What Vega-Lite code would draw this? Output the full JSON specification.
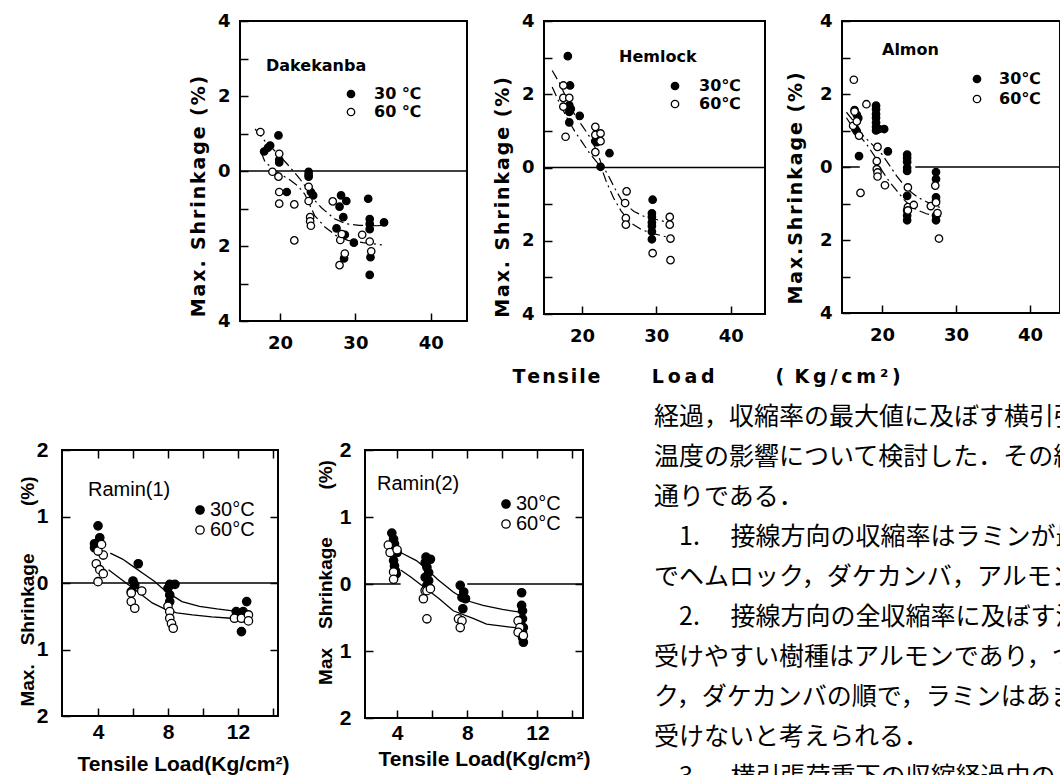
{
  "$schema": "https://vega.github.io/schema/vega-lite/v6.json",
  "padding": {"left": 17, "top": 11, "right": 0, "bottom": 0},
  "background": "white",
  "datasets": {
    "dPts": [
      {"load":19.8,"shrink":0.95,"temp":"30"},{"load":17.9,"shrink":0.52,"temp":"30"},{"load":18.4,"shrink":0.62,"temp":"30"},{"load":18.7,"shrink":0.68,"temp":"30"},{"load":19.9,"shrink":0.3,"temp":"30"},{"load":19.9,"shrink":0.23,"temp":"30"},{"load":20.9,"shrink":-0.56,"temp":"30"},{"load":23.8,"shrink":-0.02,"temp":"30"},{"load":23.8,"shrink":-0.1,"temp":"30"},{"load":23.8,"shrink":-0.15,"temp":"30"},{"load":24.1,"shrink":-0.56,"temp":"30"},{"load":24.4,"shrink":-0.65,"temp":"30"},{"load":28.1,"shrink":-0.65,"temp":"30"},{"load":27.9,"shrink":-0.95,"temp":"30"},{"load":28.8,"shrink":-0.8,"temp":"30"},{"load":28.4,"shrink":-1.23,"temp":"30"},{"load":27.5,"shrink":-1.53,"temp":"30"},{"load":28.6,"shrink":-1.7,"temp":"30"},{"load":29.8,"shrink":-1.91,"temp":"30"},{"load":28.5,"shrink":-2.33,"temp":"30"},{"load":31.7,"shrink":-0.74,"temp":"30"},{"load":31.9,"shrink":-1.28,"temp":"30"},{"load":31.9,"shrink":-1.41,"temp":"30"},{"load":31.9,"shrink":-1.55,"temp":"30"},{"load":33.8,"shrink":-1.37,"temp":"30"},{"load":32.0,"shrink":-2.3,"temp":"30"},{"load":31.9,"shrink":-2.77,"temp":"30"},
      {"load":17.4,"shrink":1.04,"temp":"60"},{"load":19.9,"shrink":0.46,"temp":"60"},{"load":19.0,"shrink":-0.02,"temp":"60"},{"load":19.8,"shrink":-0.15,"temp":"60"},{"load":19.9,"shrink":-0.56,"temp":"60"},{"load":19.9,"shrink":-0.87,"temp":"60"},{"load":21.9,"shrink":-0.89,"temp":"60"},{"load":21.9,"shrink":-1.85,"temp":"60"},{"load":23.8,"shrink":-0.42,"temp":"60"},{"load":23.8,"shrink":-0.8,"temp":"60"},{"load":24.0,"shrink":-1.23,"temp":"60"},{"load":24.0,"shrink":-1.34,"temp":"60"},{"load":24.1,"shrink":-1.46,"temp":"60"},{"load":27.0,"shrink":-0.81,"temp":"60"},{"load":28.0,"shrink":-1.84,"temp":"60"},{"load":28.2,"shrink":-1.68,"temp":"60"},{"load":28.6,"shrink":-2.2,"temp":"60"},{"load":27.9,"shrink":-2.51,"temp":"60"},{"load":30.9,"shrink":-1.7,"temp":"60"},{"load":31.9,"shrink":-1.88,"temp":"60"},{"load":32.1,"shrink":-2.14,"temp":"60"}
    ],
    "dCur": [
      {"load":16.7,"shrink":1.12,"temp":"30"},{"load":18,"shrink":0.8,"temp":"30"},{"load":19.5,"shrink":0.5,"temp":"30"},{"load":20.9,"shrink":0.2,"temp":"30"},{"load":22.6,"shrink":-0.2,"temp":"30"},{"load":23.5,"shrink":-0.45,"temp":"30"},{"load":24.4,"shrink":-0.74,"temp":"30"},{"load":25.5,"shrink":-0.98,"temp":"30"},{"load":26.5,"shrink":-1.15,"temp":"30"},{"load":27.3,"shrink":-1.28,"temp":"30"},{"load":28.8,"shrink":-1.41,"temp":"30"},{"load":30.5,"shrink":-1.45,"temp":"30"},{"load":32.8,"shrink":-1.46,"temp":"30"},{"load":33.6,"shrink":-1.45,"temp":"30"},
      {"load":17.5,"shrink":0.5,"temp":"60"},{"load":18,"shrink":0.25,"temp":"60"},{"load":18.7,"shrink":0.12,"temp":"60"},{"load":20,"shrink":-0.08,"temp":"60"},{"load":21.2,"shrink":-0.22,"temp":"60"},{"load":22.4,"shrink":-0.4,"temp":"60"},{"load":23.3,"shrink":-0.62,"temp":"60"},{"load":24.6,"shrink":-1.19,"temp":"60"},{"load":26,"shrink":-1.5,"temp":"60"},{"load":27.5,"shrink":-1.73,"temp":"60"},{"load":29,"shrink":-1.85,"temp":"60"},{"load":31,"shrink":-1.91,"temp":"60"},{"load":33.5,"shrink":-1.97,"temp":"60"}
    ],
    "dZero": [{"load":14.7,"load2":44.8,"shrink":0}],
    "hPts": [
      {"load":18.1,"shrink":3.04,"temp":"30"},{"load":18.4,"shrink":2.24,"temp":"30"},{"load":18.3,"shrink":1.7,"temp":"30"},{"load":18.5,"shrink":1.6,"temp":"30"},{"load":18.3,"shrink":1.52,"temp":"30"},{"load":18.3,"shrink":1.23,"temp":"30"},{"load":19.7,"shrink":1.41,"temp":"30"},{"load":21.8,"shrink":0.72,"temp":"30"},{"load":22.0,"shrink":0.69,"temp":"30"},{"load":23.7,"shrink":0.39,"temp":"30"},{"load":22.5,"shrink":0.02,"temp":"30"},{"load":29.5,"shrink":-0.88,"temp":"30"},{"load":29.4,"shrink":-1.25,"temp":"30"},{"load":29.4,"shrink":-1.35,"temp":"30"},{"load":29.4,"shrink":-1.5,"temp":"30"},{"load":29.4,"shrink":-1.6,"temp":"30"},{"load":29.4,"shrink":-1.75,"temp":"30"},{"load":29.4,"shrink":-1.96,"temp":"30"},
      {"load":17.5,"shrink":2.24,"temp":"60"},{"load":17.5,"shrink":1.9,"temp":"60"},{"load":17.5,"shrink":1.66,"temp":"60"},{"load":18.3,"shrink":1.9,"temp":"60"},{"load":17.8,"shrink":0.84,"temp":"60"},{"load":21.8,"shrink":1.11,"temp":"60"},{"load":21.8,"shrink":0.89,"temp":"60"},{"load":22.5,"shrink":0.93,"temp":"60"},{"load":22.5,"shrink":0.72,"temp":"60"},{"load":21.8,"shrink":0.42,"temp":"60"},{"load":26.0,"shrink":-0.65,"temp":"60"},{"load":25.8,"shrink":-0.97,"temp":"60"},{"load":25.9,"shrink":-1.38,"temp":"60"},{"load":25.9,"shrink":-1.56,"temp":"60"},{"load":31.8,"shrink":-1.35,"temp":"60"},{"load":31.8,"shrink":-1.56,"temp":"60"},{"load":31.9,"shrink":-1.94,"temp":"60"},{"load":29.5,"shrink":-2.34,"temp":"60"},{"load":31.9,"shrink":-2.53,"temp":"60"}
    ],
    "hCur": [
      {"load":16,"shrink":2.65,"temp":"30"},{"load":17,"shrink":2.3,"temp":"30"},{"load":18,"shrink":1.85,"temp":"30"},{"load":19,"shrink":1.45,"temp":"30"},{"load":20,"shrink":1.15,"temp":"30"},{"load":21,"shrink":0.85,"temp":"30"},{"load":22,"shrink":0.45,"temp":"30"},{"load":22.6,"shrink":0.1,"temp":"30"},{"load":23.5,"shrink":-0.2,"temp":"30"},{"load":24.5,"shrink":-0.6,"temp":"30"},{"load":25.5,"shrink":-0.95,"temp":"30"},{"load":27,"shrink":-1.2,"temp":"30"},{"load":28.5,"shrink":-1.35,"temp":"30"},{"load":30,"shrink":-1.42,"temp":"30"},{"load":32,"shrink":-1.52,"temp":"30"},
      {"load":16,"shrink":2.2,"temp":"60"},{"load":17,"shrink":1.75,"temp":"60"},{"load":18,"shrink":1.35,"temp":"60"},{"load":19,"shrink":1.0,"temp":"60"},{"load":20,"shrink":0.7,"temp":"60"},{"load":21,"shrink":0.4,"temp":"60"},{"load":22,"shrink":0.15,"temp":"60"},{"load":22.6,"shrink":0.0,"temp":"60"},{"load":23.3,"shrink":-0.4,"temp":"60"},{"load":24.3,"shrink":-0.85,"temp":"60"},{"load":25.3,"shrink":-1.2,"temp":"60"},{"load":26.5,"shrink":-1.5,"temp":"60"},{"load":28,"shrink":-1.7,"temp":"60"},{"load":29.5,"shrink":-1.8,"temp":"60"},{"load":32,"shrink":-1.93,"temp":"60"}
    ],
    "hZero": [{"load":14.9,"load2":44.6,"shrink":0}],
    "aPts": [
      {"load":16.3,"shrink":1.56,"temp":"30"},{"load":16.6,"shrink":1.43,"temp":"30"},{"load":16.8,"shrink":1.34,"temp":"30"},{"load":16.4,"shrink":1.04,"temp":"30"},{"load":16.6,"shrink":0.98,"temp":"30"},{"load":16.9,"shrink":0.3,"temp":"30"},{"load":19.2,"shrink":1.68,"temp":"30"},{"load":19.2,"shrink":1.58,"temp":"30"},{"load":19.2,"shrink":1.45,"temp":"30"},{"load":19.2,"shrink":1.35,"temp":"30"},{"load":19.2,"shrink":1.22,"temp":"30"},{"load":19.2,"shrink":1.1,"temp":"30"},{"load":19.2,"shrink":1.0,"temp":"30"},{"load":19.6,"shrink":1.04,"temp":"30"},{"load":20.3,"shrink":1.04,"temp":"30"},{"load":20.8,"shrink":0.43,"temp":"30"},{"load":23.4,"shrink":0.34,"temp":"30"},{"load":23.4,"shrink":0.25,"temp":"30"},{"load":23.4,"shrink":0.14,"temp":"30"},{"load":23.4,"shrink":-0.02,"temp":"30"},{"load":23.4,"shrink":-0.11,"temp":"30"},{"load":23.4,"shrink":-0.79,"temp":"30"},{"load":23.4,"shrink":-1.19,"temp":"30"},{"load":23.4,"shrink":-1.33,"temp":"30"},{"load":23.4,"shrink":-1.46,"temp":"30"},{"load":27.3,"shrink":-0.14,"temp":"30"},{"load":27.3,"shrink":-0.33,"temp":"30"},{"load":27.3,"shrink":-0.83,"temp":"30"},{"load":27.3,"shrink":-0.92,"temp":"30"},{"load":27.3,"shrink":-1.33,"temp":"30"},{"load":27.3,"shrink":-1.46,"temp":"30"},
      {"load":16.2,"shrink":2.39,"temp":"60"},{"load":16.3,"shrink":1.52,"temp":"60"},{"load":16.1,"shrink":1.13,"temp":"60"},{"load":16.6,"shrink":1.25,"temp":"60"},{"load":16.9,"shrink":0.86,"temp":"60"},{"load":17.1,"shrink":-0.71,"temp":"60"},{"load":17.9,"shrink":1.72,"temp":"60"},{"load":19.4,"shrink":0.55,"temp":"60"},{"load":19.3,"shrink":0.16,"temp":"60"},{"load":19.3,"shrink":-0.06,"temp":"60"},{"load":19.4,"shrink":-0.15,"temp":"60"},{"load":19.4,"shrink":-0.26,"temp":"60"},{"load":20.4,"shrink":-0.5,"temp":"60"},{"load":23.5,"shrink":-0.56,"temp":"60"},{"load":23.5,"shrink":-1.1,"temp":"60"},{"load":23.5,"shrink":-1.19,"temp":"60"},{"load":24.3,"shrink":-1.04,"temp":"60"},{"load":26.6,"shrink":-1.07,"temp":"60"},{"load":27.2,"shrink":-0.51,"temp":"60"},{"load":27.3,"shrink":-0.97,"temp":"60"},{"load":27.5,"shrink":-1.26,"temp":"60"},{"load":27.7,"shrink":-1.96,"temp":"60"}
    ],
    "aCur": [
      {"load":15.2,"shrink":1.5,"temp":"30"},{"load":16,"shrink":1.3,"temp":"30"},{"load":17,"shrink":0.95,"temp":"30"},{"load":18,"shrink":0.75,"temp":"30"},{"load":19,"shrink":0.55,"temp":"30"},{"load":20,"shrink":0.35,"temp":"30"},{"load":21,"shrink":0.05,"temp":"30"},{"load":22,"shrink":-0.25,"temp":"30"},{"load":23,"shrink":-0.5,"temp":"30"},{"load":24,"shrink":-0.7,"temp":"30"},{"load":25,"shrink":-0.85,"temp":"30"},{"load":26,"shrink":-0.95,"temp":"30"},{"load":27,"shrink":-1.05,"temp":"30"},{"load":28,"shrink":-1.12,"temp":"30"},
      {"load":15.2,"shrink":1.35,"temp":"60"},{"load":16,"shrink":1.1,"temp":"60"},{"load":17,"shrink":0.85,"temp":"60"},{"load":18,"shrink":0.6,"temp":"60"},{"load":19,"shrink":0.3,"temp":"60"},{"load":20,"shrink":-0.1,"temp":"60"},{"load":21,"shrink":-0.4,"temp":"60"},{"load":22,"shrink":-0.65,"temp":"60"},{"load":23,"shrink":-0.9,"temp":"60"},{"load":24,"shrink":-1.1,"temp":"60"},{"load":25,"shrink":-1.2,"temp":"60"},{"load":26,"shrink":-1.28,"temp":"60"},{"load":27,"shrink":-1.33,"temp":"60"},{"load":28,"shrink":-1.35,"temp":"60"}
    ],
    "aZero": [{"load":14.6,"load2":17.0,"shrink":0},{"load":24.5,"load2":44.05,"shrink":0}],
    "r1Pts": [
      {"load":4.0,"shrink":0.86,"temp":"30"},{"load":3.8,"shrink":0.59,"temp":"30"},{"load":4.0,"shrink":0.61,"temp":"30"},{"load":4.1,"shrink":0.68,"temp":"30"},{"load":3.8,"shrink":0.53,"temp":"30"},{"load":4.0,"shrink":0.56,"temp":"30"},{"load":6.3,"shrink":0.29,"temp":"30"},{"load":6.0,"shrink":0.03,"temp":"30"},{"load":6.1,"shrink":-0.03,"temp":"30"},{"load":5.9,"shrink":-0.13,"temp":"30"},{"load":8.1,"shrink":-0.02,"temp":"30"},{"load":8.4,"shrink":-0.02,"temp":"30"},{"load":8.0,"shrink":-0.08,"temp":"30"},{"load":8.1,"shrink":-0.18,"temp":"30"},{"load":8.1,"shrink":-0.28,"temp":"30"},{"load":12.5,"shrink":-0.28,"temp":"30"},{"load":11.9,"shrink":-0.43,"temp":"30"},{"load":12.3,"shrink":-0.43,"temp":"30"},{"load":12.2,"shrink":-0.73,"temp":"30"},
      {"load":4.0,"shrink":0.02,"temp":"60"},{"load":3.9,"shrink":0.29,"temp":"60"},{"load":4.1,"shrink":0.2,"temp":"60"},{"load":4.3,"shrink":0.14,"temp":"60"},{"load":4.3,"shrink":0.42,"temp":"60"},{"load":4.0,"shrink":0.48,"temp":"60"},{"load":4.2,"shrink":0.58,"temp":"60"},{"load":5.9,"shrink":-0.15,"temp":"60"},{"load":5.9,"shrink":-0.28,"temp":"60"},{"load":6.1,"shrink":-0.38,"temp":"60"},{"load":6.5,"shrink":-0.12,"temp":"60"},{"load":8.0,"shrink":-0.35,"temp":"60"},{"load":8.1,"shrink":-0.43,"temp":"60"},{"load":8.1,"shrink":-0.53,"temp":"60"},{"load":8.2,"shrink":-0.61,"temp":"60"},{"load":8.3,"shrink":-0.68,"temp":"60"},{"load":11.8,"shrink":-0.53,"temp":"60"},{"load":12.2,"shrink":-0.53,"temp":"60"},{"load":12.6,"shrink":-0.48,"temp":"60"},{"load":12.6,"shrink":-0.57,"temp":"60"}
    ],
    "r1Cur": [
      {"load":4.7,"shrink":0.45,"temp":"30"},{"load":5.4,"shrink":0.36,"temp":"30"},{"load":6.0,"shrink":0.25,"temp":"30"},{"load":6.6,"shrink":0.14,"temp":"30"},{"load":7.2,"shrink":0.03,"temp":"30"},{"load":7.9,"shrink":-0.13,"temp":"30"},{"load":8.8,"shrink":-0.28,"temp":"30"},{"load":9.8,"shrink":-0.35,"temp":"30"},{"load":10.8,"shrink":-0.39,"temp":"30"},{"load":11.7,"shrink":-0.42,"temp":"30"},
      {"load":4.6,"shrink":0.2,"temp":"60"},{"load":5.3,"shrink":0.06,"temp":"60"},{"load":6.0,"shrink":-0.08,"temp":"60"},{"load":6.6,"shrink":-0.2,"temp":"60"},{"load":7.1,"shrink":-0.3,"temp":"60"},{"load":7.8,"shrink":-0.39,"temp":"60"},{"load":8.5,"shrink":-0.45,"temp":"60"},{"load":9.4,"shrink":-0.48,"temp":"60"},{"load":10.5,"shrink":-0.51,"temp":"60"},{"load":11.6,"shrink":-0.53,"temp":"60"}
    ],
    "r1Zero": [{"load":1.94,"load2":14.29,"shrink":0}],
    "r2Pts": [
      {"load":3.7,"shrink":0.76,"temp":"30"},{"load":3.8,"shrink":0.67,"temp":"30"},{"load":3.85,"shrink":0.6,"temp":"30"},{"load":3.9,"shrink":0.52,"temp":"30"},{"load":4.0,"shrink":0.47,"temp":"30"},{"load":3.8,"shrink":0.35,"temp":"30"},{"load":3.85,"shrink":0.27,"temp":"30"},{"load":3.9,"shrink":0.2,"temp":"30"},{"load":3.95,"shrink":0.15,"temp":"30"},{"load":5.65,"shrink":0.4,"temp":"30"},{"load":5.9,"shrink":0.37,"temp":"30"},{"load":5.6,"shrink":0.32,"temp":"30"},{"load":5.7,"shrink":0.25,"temp":"30"},{"load":5.8,"shrink":0.17,"temp":"30"},{"load":5.6,"shrink":0.1,"temp":"30"},{"load":5.8,"shrink":0.05,"temp":"30"},{"load":5.7,"shrink":-0.02,"temp":"30"},{"load":7.6,"shrink":-0.02,"temp":"30"},{"load":7.8,"shrink":-0.12,"temp":"30"},{"load":7.7,"shrink":-0.2,"temp":"30"},{"load":7.9,"shrink":-0.22,"temp":"30"},{"load":7.75,"shrink":-0.37,"temp":"30"},{"load":11.1,"shrink":-0.13,"temp":"30"},{"load":11.1,"shrink":-0.32,"temp":"30"},{"load":11.15,"shrink":-0.4,"temp":"30"},{"load":11.15,"shrink":-0.52,"temp":"30"},{"load":11.2,"shrink":-0.65,"temp":"30"},{"load":11.15,"shrink":-0.72,"temp":"30"},{"load":11.15,"shrink":-0.8,"temp":"30"},{"load":11.2,"shrink":-0.87,"temp":"30"},
      {"load":3.5,"shrink":0.58,"temp":"60"},{"load":3.6,"shrink":0.47,"temp":"60"},{"load":4.0,"shrink":0.51,"temp":"60"},{"load":3.8,"shrink":0.18,"temp":"60"},{"load":3.8,"shrink":0.07,"temp":"60"},{"load":5.6,"shrink":-0.1,"temp":"60"},{"load":5.7,"shrink":-0.1,"temp":"60"},{"load":5.5,"shrink":-0.22,"temp":"60"},{"load":5.7,"shrink":-0.52,"temp":"60"},{"load":5.9,"shrink":-0.07,"temp":"60"},{"load":7.5,"shrink":-0.52,"temp":"60"},{"load":7.7,"shrink":-0.55,"temp":"60"},{"load":7.6,"shrink":-0.65,"temp":"60"},{"load":10.9,"shrink":-0.55,"temp":"60"},{"load":11.0,"shrink":-0.65,"temp":"60"},{"load":10.9,"shrink":-0.72,"temp":"60"},{"load":11.2,"shrink":-0.77,"temp":"60"}
    ],
    "r2Cur": [
      {"load":4.2,"shrink":0.47,"temp":"30"},{"load":5.1,"shrink":0.35,"temp":"30"},{"load":5.7,"shrink":0.22,"temp":"30"},{"load":6.3,"shrink":0.07,"temp":"30"},{"load":7.2,"shrink":-0.12,"temp":"30"},{"load":8.0,"shrink":-0.25,"temp":"30"},{"load":8.9,"shrink":-0.32,"temp":"30"},{"load":10.0,"shrink":-0.38,"temp":"30"},{"load":11.0,"shrink":-0.42,"temp":"30"},
      {"load":4.2,"shrink":0.21,"temp":"60"},{"load":4.8,"shrink":0.1,"temp":"60"},{"load":5.3,"shrink":0.0,"temp":"60"},{"load":5.9,"shrink":-0.12,"temp":"60"},{"load":6.4,"shrink":-0.22,"temp":"60"},{"load":7.2,"shrink":-0.4,"temp":"60"},{"load":8.4,"shrink":-0.52,"temp":"60"},{"load":9.1,"shrink":-0.6,"temp":"60"},{"load":10.0,"shrink":-0.63,"temp":"60"},{"load":11.0,"shrink":-0.66,"temp":"60"}
    ],
    "r2Zero": [{"load":2.17,"load2":4.2,"shrink":0},{"load":8.0,"load2":14.6,"shrink":0}],
    "text": [
      {"line":1,"text":"経過，収縮率の最大値に及ぼす横引張"},
      {"line":2,"text":"温度の影響について検討した．その結"},
      {"line":3,"text":"通りである．"},
      {"line":4,"text":"\u200b\u30001.\u3000 接線方向の収縮率はラミンが最"},
      {"line":5,"text":"でヘムロック，ダケカンバ，アルモン"},
      {"line":6,"text":"\u200b\u30002.\u3000 接線方向の全収縮率に及ぼす温"},
      {"line":7,"text":"受けやすい樹種はアルモンであり，つ"},
      {"line":8,"text":"ク，ダケカンバの順で，ラミンはあま"},
      {"line":9,"text":"受けないと考えられる．"},
      {"line":10,"text":"\u200b\u30003.\u3000 横引張荷重下の収縮経過中の"}
    ]
  },
  "vconcat": [
    {
      "hconcat": [
        {"width": 101, "height": 300, "data": {"values": []}, "mark": "point", "encoding": {}},
        {
          "width": 227, "height": 300,
          "view": {"stroke": "black", "strokeWidth": 2},
          "title": {"text": "Dakekanba", "anchor": "start", "frame": "group", "orient": "top", "baseline": "top", "offset": 0, "dx": 26, "dy": 62, "font": "DejaVu Sans", "fontSize": 16, "fontWeight": "bold", "color": "black"},
          "resolve": {"axis": {"x": "independent", "y": "independent"}},
          "layer": [
            {"data": {"name": "dZero"}, "mark": {"type": "rule", "color": "black", "strokeWidth": 1.5},
             "encoding": {"x": {"field": "load", "type": "quantitative", "scale": {"domain": [14.7, 44.8], "nice": false, "zero": false}, "axis": null}, "x2": {"field": "load2"}, "y": {"field": "shrink", "type": "quantitative", "scale": {"domain": [-4, 4], "nice": false}, "axis": null}}},
            {"data": {"name": "dCur"}, "mark": {"type": "line", "color": "black", "strokeWidth": 1.2, "strokeDash": [10, 4, 2, 4]},
             "encoding": {"x": {"field": "load", "type": "quantitative", "axis": null}, "y": {"field": "shrink", "type": "quantitative", "axis": null}, "detail": {"field": "temp"}}},
            {"data": {"name": "dPts"}, "mark": {"type": "point", "shape": "circle", "filled": true, "stroke": "black", "strokeWidth": 1.3, "size": 55, "opacity": 1},
             "encoding": {
               "x": {"field": "load", "type": "quantitative", "axis": {"orient": "bottom", "values": [20, 30, 40], "tickSize": -8, "labelPadding": 21, "labelFont": "DejaVu Sans", "labelFontSize": 18, "labelFontWeight": "bold", "title": null}},
               "y": {"field": "shrink", "type": "quantitative", "axis": {"orient": "left", "values": [-4, -3, -2, -1, 0, 1, 2, 3, 4], "labelExpr": "datum.value % 2 == 0 ? format(abs(datum.value), 'd') : ''", "tickSize": -8, "labelPadding": 18, "labelFont": "DejaVu Sans", "labelFontSize": 18, "labelFontWeight": "bold", "title": "M\u200aa\u200ax\u200a.\u200a \u200aS\u200ah\u200ar\u200ai\u200an\u200ak\u200aa\u200ag\u200ae\u200a \u200a(\u200a%\u200a)", "titleX": -42, "titleY": 175, "titleAngle": -90, "titleAlign": "center", "titleBaseline": "middle", "titleFont": "DejaVu Sans", "titleFontSize": 19, "titleFontWeight": "bold"}},
               "fill": {"field": "temp", "type": "nominal", "scale": {"domain": ["30", "60"], "range": ["black", "white"]},
                 "legend": {"orient": "none", "legendX": 103, "legendY": 65, "title": null, "direction": "vertical", "symbolType": "circle", "symbolSize": 55, "symbolStrokeColor": "black", "symbolStrokeWidth": 1.3, "labelFont": "DejaVu Sans", "labelFontSize": 16, "labelFontWeight": "bold", "labelOffset": 15, "rowPadding": 2, "padding": 0, "labelExpr": "datum.label + ' ℃'"}}
             }}
          ]
        },
        {
          "width": 221, "height": 293,
          "view": {"stroke": "black", "strokeWidth": 2},
          "title": {"text": "Hemlock", "anchor": "start", "frame": "group", "orient": "top", "baseline": "top", "offset": 0, "dx": 75, "dy": 53, "font": "DejaVu Sans", "fontSize": 16, "fontWeight": "bold", "color": "black"},
          "resolve": {"axis": {"x": "independent", "y": "independent"}},
          "layer": [
            {"data": {"name": "hZero"}, "mark": {"type": "rule", "color": "black", "strokeWidth": 1.5},
             "encoding": {"x": {"field": "load", "type": "quantitative", "scale": {"domain": [14.9, 44.6], "nice": false, "zero": false}, "axis": null}, "x2": {"field": "load2"}, "y": {"field": "shrink", "type": "quantitative", "scale": {"domain": [-4, 4], "nice": false}, "axis": null}}},
            {"data": {"name": "hCur"}, "mark": {"type": "line", "color": "black", "strokeWidth": 1.2, "strokeDash": [10, 4, 2, 4]},
             "encoding": {"x": {"field": "load", "type": "quantitative", "axis": null}, "y": {"field": "shrink", "type": "quantitative", "axis": null}, "detail": {"field": "temp"}}},
            {"data": {"name": "hPts"}, "mark": {"type": "point", "shape": "circle", "filled": true, "stroke": "black", "strokeWidth": 1.3, "size": 55, "opacity": 1},
             "encoding": {
               "x": {"field": "load", "type": "quantitative", "axis": {"orient": "bottom", "values": [20, 30, 40], "tickSize": -8, "labelPadding": 21, "labelFont": "DejaVu Sans", "labelFontSize": 18, "labelFontWeight": "bold", "title": "T\u200ae\u200an\u200as\u200ai\u200al\u200ae\u2003\u2003\u2002\u2009L\u2009o\u2009a\u2009d\u2003\u2003\u2003\u2009(\u2009 K\u2009g\u2009/\u2009c\u2009m\u2009²\u2009)", "titleX": -32, "titleY": 62, "titleAlign": "left", "titleBaseline": "middle", "titleFont": "DejaVu Sans", "titleFontSize": 19, "titleFontWeight": "bold"}},
               "y": {"field": "shrink", "type": "quantitative", "axis": {"orient": "left", "values": [-4, -3, -2, -1, 0, 1, 2, 3, 4], "labelExpr": "datum.value % 2 == 0 ? format(abs(datum.value), 'd') : ''", "tickSize": -8, "labelPadding": 18, "labelFont": "DejaVu Sans", "labelFontSize": 18, "labelFontWeight": "bold", "title": "M\u200aa\u200ax\u200a.\u200a \u200aS\u200ah\u200ar\u200ai\u200an\u200ak\u200aa\u200ag\u200ae\u2002(\u200a%\u200a)", "titleX": -42, "titleY": 176, "titleAngle": -90, "titleAlign": "center", "titleBaseline": "middle", "titleFont": "DejaVu Sans", "titleFontSize": 19, "titleFontWeight": "bold"}},
               "fill": {"field": "temp", "type": "nominal", "scale": {"domain": ["30", "60"], "range": ["black", "white"]},
                 "legend": {"orient": "none", "legendX": 123, "legendY": 57, "title": null, "direction": "vertical", "symbolType": "circle", "symbolSize": 55, "symbolStrokeColor": "black", "symbolStrokeWidth": 1.3, "labelFont": "DejaVu Sans", "labelFontSize": 16, "labelFontWeight": "bold", "labelOffset": 16, "rowPadding": 2, "padding": 0, "labelExpr": "datum.label + '℃'"}}
             }}
          ]
        },
        {
          "width": 218, "height": 292,
          "view": {"stroke": "black", "strokeWidth": 2},
          "title": {"text": "Almon", "anchor": "start", "frame": "group", "orient": "top", "baseline": "top", "offset": 0, "dx": 40, "dy": 46, "font": "DejaVu Sans", "fontSize": 16, "fontWeight": "bold", "color": "black"},
          "resolve": {"axis": {"x": "independent", "y": "independent"}},
          "layer": [
            {"data": {"name": "aZero"}, "mark": {"type": "rule", "color": "black", "strokeWidth": 1.5},
             "encoding": {"x": {"field": "load", "type": "quantitative", "scale": {"domain": [14.6, 44.05], "nice": false, "zero": false}, "axis": null}, "x2": {"field": "load2"}, "y": {"field": "shrink", "type": "quantitative", "scale": {"domain": [-4, 4], "nice": false}, "axis": null}}},
            {"data": {"name": "aCur"}, "mark": {"type": "line", "color": "black", "strokeWidth": 1.2, "strokeDash": [10, 4, 2, 4]},
             "encoding": {"x": {"field": "load", "type": "quantitative", "axis": null}, "y": {"field": "shrink", "type": "quantitative", "axis": null}, "detail": {"field": "temp"}}},
            {"data": {"name": "aPts"}, "mark": {"type": "point", "shape": "circle", "filled": true, "stroke": "black", "strokeWidth": 1.3, "size": 55, "opacity": 1},
             "encoding": {
               "x": {"field": "load", "type": "quantitative", "axis": {"orient": "bottom", "values": [20, 30, 40], "tickSize": -8, "labelPadding": 21, "labelFont": "DejaVu Sans", "labelFontSize": 18, "labelFontWeight": "bold", "title": null}},
               "y": {"field": "shrink", "type": "quantitative", "axis": {"orient": "left", "values": [-4, -3, -2, -1, 0, 1, 2, 3, 4], "labelExpr": "datum.value % 2 == 0 ? format(abs(datum.value), 'd') : ''", "tickSize": -8, "labelPadding": 18, "labelFont": "DejaVu Sans", "labelFontSize": 18, "labelFontWeight": "bold", "title": "M\u200aa\u200ax\u200a.\u200aS\u200ah\u200ar\u200ai\u200an\u200ak\u200aa\u200ag\u200ae\u2002(\u200a%\u200a)", "titleX": -47, "titleY": 167, "titleAngle": -90, "titleAlign": "center", "titleBaseline": "middle", "titleFont": "DejaVu Sans", "titleFontSize": 19, "titleFontWeight": "bold"}},
               "fill": {"field": "temp", "type": "nominal", "scale": {"domain": ["30", "60"], "range": ["black", "white"]},
                 "legend": {"orient": "none", "legendX": 127, "legendY": 50, "title": null, "direction": "vertical", "symbolType": "circle", "symbolSize": 55, "symbolStrokeColor": "black", "symbolStrokeWidth": 1.3, "labelFont": "DejaVu Sans", "labelFontSize": 16, "labelFontWeight": "bold", "labelOffset": 14, "rowPadding": 4, "padding": 0, "labelExpr": "datum.label + '℃'"}}
             }}
          ]
        }
      ],
      "spacing": 77,
      "bounds": "flush",
      "resolve": {"scale": {"fill": "independent"}, "legend": {"fill": "independent"}}
    },
    {
      "hconcat": [
        {
          "vconcat": [
            {"width": 521, "height": 1, "data": {"values": []}, "mark": "point", "encoding": {}},
            {
              "hconcat": [
                {
                  "width": 216, "height": 266,
                  "view": {"stroke": "black", "strokeWidth": 2},
                  "title": {"text": "Ramin(1)", "anchor": "start", "frame": "group", "orient": "top", "baseline": "top", "offset": 0, "dx": 26, "dy": 61, "font": "Liberation Sans", "fontSize": 20, "fontWeight": "normal", "color": "black"},
                  "resolve": {"axis": {"x": "independent", "y": "independent"}},
                  "layer": [
                    {"data": {"name": "r1Zero"}, "mark": {"type": "rule", "color": "black", "strokeWidth": 1.5},
                     "encoding": {"x": {"field": "load", "type": "quantitative", "scale": {"domain": [1.94, 14.29], "nice": false, "zero": false}, "axis": {"orient": "top", "values": [4, 6, 8, 10, 12, 14], "labels": false, "tickSize": -8, "title": null}}, "x2": {"field": "load2"}, "y": {"field": "shrink", "type": "quantitative", "scale": {"domain": [-2, 2], "nice": false}, "axis": {"orient": "right", "values": [-1, 0, 1], "labels": false, "tickSize": -8, "title": null}}}},
                    {"data": {"name": "r1Cur"}, "mark": {"type": "line", "color": "black", "strokeWidth": 1.3},
                     "encoding": {"x": {"field": "load", "type": "quantitative", "axis": null}, "y": {"field": "shrink", "type": "quantitative", "axis": null}, "detail": {"field": "temp"}}},
                    {"data": {"name": "r1Pts"}, "mark": {"type": "point", "shape": "circle", "filled": true, "stroke": "black", "strokeWidth": 1.3, "size": 70, "opacity": 1},
                     "encoding": {
                       "x": {"field": "load", "type": "quantitative", "axis": {"orient": "bottom", "values": [4, 6, 8, 10, 12, 14], "labelExpr": "datum.value % 4 == 0 ? datum.label : ''", "tickSize": -8, "labelPadding": 13, "labelFont": "Liberation Sans", "labelFontSize": 21, "labelFontWeight": "bold", "title": "Tensile Load(Kg/cm²)", "titleX": 121, "titleY": 48, "titleAlign": "center", "titleBaseline": "middle", "titleFont": "Liberation Sans", "titleFontSize": 21, "titleFontWeight": "bold"}},
                       "y": {"field": "shrink", "type": "quantitative", "axis": {"orient": "left", "values": [-2, -1, 0, 1, 2], "labelExpr": "format(abs(datum.value), 'd')", "tickSize": -8, "labelPadding": 22, "labelFont": "Liberation Sans", "labelFontSize": 21, "labelFontWeight": "bold", "title": "Max.\u2003Shrinkage\u2003\u2003\u2002(%)", "titleX": -35, "titleY": 141, "titleAngle": -90, "titleAlign": "center", "titleBaseline": "middle", "titleFont": "Liberation Sans", "titleFontSize": 19, "titleFontWeight": "bold"}},
                       "fill": {"field": "temp", "type": "nominal", "scale": {"domain": ["30", "60"], "range": ["black", "white"]},
                         "legend": {"orient": "none", "legendX": 128, "legendY": 50, "title": null, "direction": "vertical", "symbolType": "circle", "symbolSize": 70, "symbolStrokeColor": "black", "symbolStrokeWidth": 1.3, "labelFont": "Liberation Sans", "labelFontSize": 20, "labelFontWeight": "normal", "labelOffset": 0, "rowPadding": 0, "padding": 0, "labelExpr": "datum.label + '°C'"}}
                     }}
                  ]
                },
                {
                  "width": 218, "height": 268,
                  "view": {"stroke": "black", "strokeWidth": 2},
                  "title": {"text": "Ramin(2)", "anchor": "start", "frame": "group", "orient": "top", "baseline": "top", "offset": 0, "dx": 12, "dy": 55, "font": "Liberation Sans", "fontSize": 20, "fontWeight": "normal", "color": "black"},
                  "resolve": {"axis": {"x": "independent", "y": "independent"}},
                  "layer": [
                    {"data": {"name": "r2Zero"}, "mark": {"type": "rule", "color": "black", "strokeWidth": 1.5},
                     "encoding": {"x": {"field": "load", "type": "quantitative", "scale": {"domain": [2.17, 14.6], "nice": false, "zero": false}, "axis": {"orient": "top", "values": [4, 6, 8, 10, 12, 14], "labels": false, "tickSize": -8, "title": null}}, "x2": {"field": "load2"}, "y": {"field": "shrink", "type": "quantitative", "scale": {"domain": [-2, 2], "nice": false}, "axis": {"orient": "right", "values": [-1, 0, 1], "labels": false, "tickSize": -8, "title": null}}}},
                    {"data": {"name": "r2Cur"}, "mark": {"type": "line", "color": "black", "strokeWidth": 1.3},
                     "encoding": {"x": {"field": "load", "type": "quantitative", "axis": null}, "y": {"field": "shrink", "type": "quantitative", "axis": null}, "detail": {"field": "temp"}}},
                    {"data": {"name": "r2Pts"}, "mark": {"type": "point", "shape": "circle", "filled": true, "stroke": "black", "strokeWidth": 1.3, "size": 70, "opacity": 1},
                     "encoding": {
                       "x": {"field": "load", "type": "quantitative", "axis": {"orient": "bottom", "values": [4, 6, 8, 10, 12, 14], "labelExpr": "datum.value % 4 == 0 ? datum.label : ''", "tickSize": -8, "labelPadding": 12, "labelFont": "Liberation Sans", "labelFontSize": 21, "labelFontWeight": "bold", "title": "Tensile Load(Kg/cm²)", "titleX": 119, "titleY": 41, "titleAlign": "center", "titleBaseline": "middle", "titleFont": "Liberation Sans", "titleFontSize": 21, "titleFontWeight": "bold"}},
                       "y": {"field": "shrink", "type": "quantitative", "axis": {"orient": "left", "values": [-2, -1, 0, 1, 2], "labelExpr": "format(abs(datum.value), 'd')", "tickSize": -8, "labelPadding": 22, "labelFont": "Liberation Sans", "labelFontSize": 21, "labelFontWeight": "bold", "title": "Max\u2003Shrinkage\u2003\u2003\u2002(%)", "titleX": -40, "titleY": 122, "titleAngle": -90, "titleAlign": "center", "titleBaseline": "middle", "titleFont": "Liberation Sans", "titleFontSize": 19, "titleFontWeight": "bold"}},
                       "fill": {"field": "temp", "type": "nominal", "scale": {"domain": ["30", "60"], "range": ["black", "white"]},
                         "legend": {"orient": "none", "legendX": 131, "legendY": 44, "title": null, "direction": "vertical", "symbolType": "circle", "symbolSize": 70, "symbolStrokeColor": "black", "symbolStrokeWidth": 1.3, "labelFont": "Liberation Sans", "labelFontSize": 20, "labelFontWeight": "normal", "labelOffset": 0, "rowPadding": -2, "padding": 0, "labelExpr": "datum.label + '°C'"}}
                     }}
                  ]
                }
              ],
              "spacing": 87,
              "bounds": "flush",
              "resolve": {"scale": {"fill": "independent"}, "legend": {"fill": "independent"}}
            }
          ],
          "spacing": 52,
          "bounds": "flush",
          "resolve": {"scale": {"fill": "independent"}, "legend": {"fill": "independent"}}
        },
        {
          "width": 406, "height": 379,
          "data": {"name": "text"},
          "mark": {"type": "text", "align": "left", "baseline": "middle", "font": "Noto Sans CJK JP", "fontSize": 25, "color": "black", "clip": true},
          "encoding": {
            "x": {"datum": 0, "type": "quantitative", "scale": {"domain": [0, 1]}, "axis": null},
            "y": {"field": "line", "type": "quantitative", "scale": {"domain": [0.5, 9.975], "reverse": true, "nice": false, "zero": false}, "axis": null},
            "text": {"field": "text"}
          }
        }
      ],
      "spacing": 592,
      "bounds": "flush",
      "resolve": {"scale": {"fill": "independent"}, "legend": {"fill": "independent"}}
    }
  ],
  "spacing": 376,
  "bounds": "flush",
  "resolve": {"scale": {"fill": "independent"}, "legend": {"fill": "independent"}},
  "config": {
    "view": {"stroke": null},
    "axis": {"domain": false, "grid": false, "tickColor": "black", "tickWidth": 1.5, "labelColor": "black", "titleColor": "black", "labelFlush": false, "labelOverlap": false},
    "legend": {"labelColor": "black", "titleColor": "black"},
    "title": {"color": "black"}
  }
}
